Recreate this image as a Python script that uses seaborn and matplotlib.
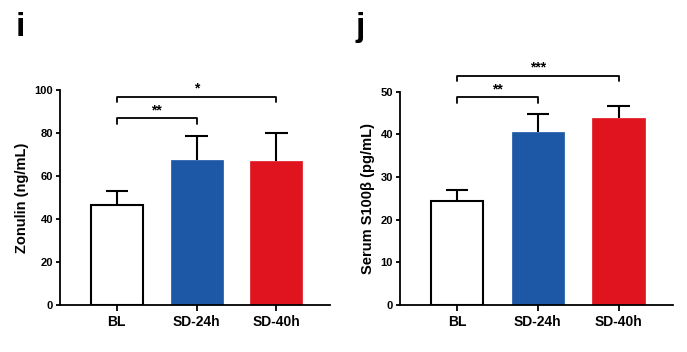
import numpy as np
import pandas as pd
import seaborn as sns
import matplotlib.pyplot as plt

groups = ["BL", "SD-24h", "SD-40h"]
colors = ["white", "#1c58a5", "#e0141e"]

zonulin_mean = [46.3, 67.4, 67.1]
zonulin_sem = [6.9, 11.2, 12.8]

s100b_mean = [24.4, 40.6, 43.9]
s100b_sem = [2.6, 4.2, 2.8]

# significance brackets: (from, to, height, label)
zonulin_sig = [(0, 1, 86.8, "**"), (0, 2, 96.9, "*")]
s100b_sig = [(0, 1, 48.7, "**"), (0, 2, 53.7, "***")]

sns.set_style("ticks", {"text.color": "black", "axes.labelcolor": "black",
                        "xtick.color": "black", "ytick.color": "black",
                        "axes.edgecolor": "black"})
plt.rcParams["font.family"] = ["Liberation Sans", "DejaVu Sans"]
plt.rcParams["font.weight"] = "bold"

fig = plt.figure(figsize=(6.87, 3.52), dpi=100)
ax1 = fig.add_axes([0.0873, 0.1335, 0.393, 0.611])
ax2 = fig.add_axes([0.582, 0.1335, 0.397, 0.606])


def panel(ax, means, sems, sig, ymax, step, ylabel):
    df = pd.DataFrame({"group": groups, "value": means})
    sns.barplot(data=df, x="group", y="value", hue="group", palette=colors,
                saturation=1, width=0.65, edgecolor="black", linewidth=1.5,
                legend=False, ax=ax)
    for p, c in zip(ax.patches, colors):
        if c != "white":
            p.set_edgecolor(c)
            p.set_linewidth(0.5)
    x = np.arange(len(groups))
    tops = np.array(means) + np.array(sems)
    # upper-only error bars
    ax.vlines(x, means, tops, color="black", lw=1.5, zorder=3)
    ax.hlines(tops, x - 0.14, x + 0.14, color="black", lw=1.5, zorder=3)
    for a, b, h, lab in sig:
        d = ymax * 0.025
        ax.plot([a, a, b, b], [h - d, h, h, h - d], color="black", lw=1.3, clip_on=False)
        ax.text((a + b) / 2, h + ymax * 0.005, lab, ha="center", va="bottom",
                fontsize=10, fontweight="bold")
    ax.set_ylim(0, ymax)
    ax.set_xlim(-0.71, 2.67)
    ax.set_yticks(np.arange(0, ymax + 1, step))
    ax.set_ylabel(ylabel, fontsize=10.5, fontweight="bold")
    ax.set_xlabel("")
    ax.tick_params(axis="y", labelsize=8, width=1.3, length=3, pad=2)
    ax.tick_params(axis="x", labelsize=10, width=1.3, length=4)
    for lab in ax.get_xticklabels() + ax.get_yticklabels():
        lab.set_fontweight("bold")
    sns.despine(ax=ax)
    ax.spines["left"].set_linewidth(1.3)
    ax.spines["bottom"].set_linewidth(1.3)


panel(ax1, zonulin_mean, zonulin_sem, zonulin_sig, 100, 20, "Zonulin (ng/mL)")
panel(ax2, s100b_mean, s100b_sem, s100b_sig, 50, 10, "Serum S100β (pg/mL)")

fig.text(16 / 687, 1 - 12 / 352, "i", fontsize=24, fontweight="bold", va="top", ha="left")
fig.text(356 / 687, 1 - 12 / 352, "j", fontsize=24, fontweight="bold", va="top", ha="left")

fig.savefig("out.png", dpi=100, facecolor="white")
